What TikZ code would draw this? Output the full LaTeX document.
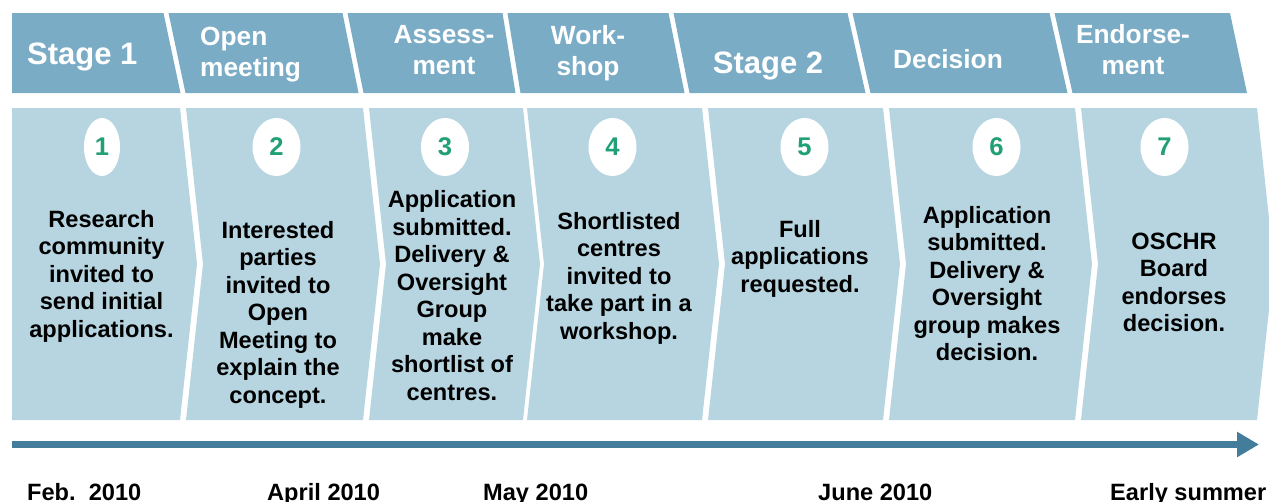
\documentclass[tikz,border=0pt]{standalone}
\usepackage{fontspec}
\setmainfont{Liberation Sans}
\usetikzlibrary{shapes.geometric,arrows.meta}

\definecolor{headblue}{HTML}{7BACC6}
\definecolor{bodyblue}{HTML}{B6D5E0}
\definecolor{lineblue}{HTML}{447D9B}
\definecolor{numgreen}{HTML}{21A077}

\begin{document}
\begin{tikzpicture}[
  x=1pt, y=-1pt,
  head/.style={text=white, font=\bfseries\fontsize{26.3}{31}\selectfont,
               inner sep=0pt, anchor=base, align=center},
  stage/.style={head, font=\bfseries\fontsize{31}{36}\selectfont},
  stepnum/.style={ellipse, fill=white, minimum width=48pt, minimum height=58pt,
                  inner sep=0pt, text=numgreen,
                  font=\bfseries\fontsize{25.6}{30}\selectfont},
  steptext/.style={anchor=base, align=center, inner sep=0pt,
                   font=\bfseries\fontsize{23.6}{27.5}\selectfont},
  date/.style={anchor=base west, inner sep=0pt,
               font=\bfseries\fontsize{23.6}{27.5}\selectfont},
  timeline/.style={draw=lineblue, line width=7.7pt,
                   -{Triangle[length=22pt,width=24pt]}}
]
\useasboundingbox (0,0) rectangle (1269,501);

% header band, one slanted box per phase
\foreach \lt/\lb/\rt/\rb in {12/12/163.5/180.5, 168.5/185.5/342.5/358.5,
    347.5/363.5/502.5/515.5, 507.5/520.5/668.5/684.5, 673.5/689.5/847.5/865.5,
    852.5/870.5/1049.5/1067.5, 1054.5/1072.5/1230/1247}
  \fill[headblue] (\lt,13) -- (\rt,13) -- (\rb,93) -- (\lb,93) -- cycle;

% step chevrons (first one has a flat left side)
\foreach \l/\r/\n in {12/180/0, 186/363/17, 369/523/17, 527/702/17,
    708/883/17, 889/1075/17, 1081/1257/17}
  \fill[bodyblue] (\l,108) -- (\r,108) -- (\r+17,264) -- (\r,420)
    -- (\l,420) -- (\l+\n,264) -- cycle;

% phase titles (multi-line nodes sit on their last baseline)
\node[stage, anchor=base west] (h1) at (27,64) {Stage 1};
\node[head, anchor=base west, align=left] (h2) at (200,76) {Open\\meeting};
\node[head] (h3) at (444,74) {Assess-\\ment};
\node[head] (h4) at (588,75) {Work-\\shop};
\node[stage] (h5) at (768,73) {Stage 2};
\node[head] (h6) at (948,68) {Decision};
\node[head] (h7) at (1133,74) {Endorse-\\ment};

% step numbers
\foreach \i/\x/\w in {1/102/36, 2/276.5/48, 3/445/48, 4/612.5/48,
    5/804.5/48, 6/996.5/48, 7/1164.5/48}
  \node[stepnum, minimum width=\w pt] (n\i) at (\x,147) {\i};

% step descriptions
\node[steptext] (t1) at (101.5,337)
  {Research\\community\\invited to\\send initial\\applications.};
\node[steptext] (t2) at (278,403)
  {Interested\\parties\\invited to\\Open\\Meeting to\\explain the\\concept.};
\node[steptext] (t3) at (452,400)
  {Application\\submitted.\\Delivery \&\\Oversight\\Group\\make\\shortlist of\\centres.};
\node[steptext] (t4) at (619,339)
  {Shortlisted\\centres\\invited to\\take part in a\\workshop.};
\node[steptext] (t5) at (800,292) {Full\\applications\\requested.};
\node[steptext] (t6) at (987,360.5)
  {Application\\submitted.\\Delivery \&\\Oversight\\group makes\\decision.};
\node[steptext] (t7) at (1174,331.5) {OSCHR\\Board\\endorses\\decision.};

% time axis
\coordinate (tl-start) at (12,444.5);
\coordinate (tl-end) at (1259,444.5);
\draw[timeline] (tl-start) -- (tl-end);

% dates
\node[date] (d1) at (27,500) {Feb.\ \ 2010};
\node[date] (d2) at (267,500) {April 2010};
\node[date] (d3) at (483,500) {May 2010};
\node[date] (d4) at (818,500) {June 2010};
\node[date] (d5) at (1110,500) {Early summer};
\end{tikzpicture}
\end{document}
